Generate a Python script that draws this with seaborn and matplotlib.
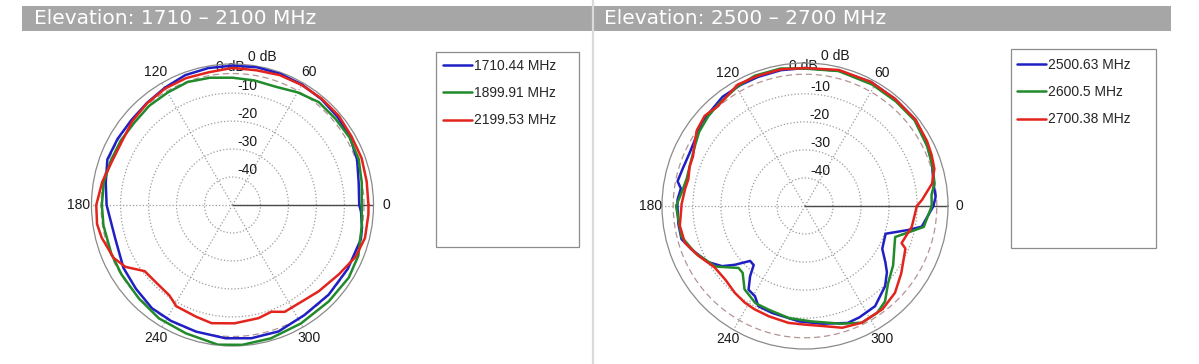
"""
Elevation radiation patterns, two frequency bands, MATLAB-style polar plots.
Output: out.png (1199 x 364)
"""
import numpy as np
import pandas as pd
import matplotlib
matplotlib.use("Agg")
import matplotlib.pyplot as plt
import matplotlib.transforms as mtransforms
from matplotlib.legend import Legend
from matplotlib.lines import Line2D
from matplotlib.patches import Rectangle
import seaborn as sns

W, H, DPI = 1199, 364, 100

# ── Data (angle in degrees, gain in dB) ───────────────────────

LOW_TITLE = "Elevation: 1710 \u2013 2100 MHz"
HIGH_TITLE = "Elevation: 2500 \u2013 2700 MHz"

LOW_NAMES = ["1710.44 MHz", "1899.91 MHz", "2199.53 MHz"]
HIGH_NAMES = ["2500.63 MHz", "2600.5 MHz", "2700.38 MHz"]

low_blue_deg = [0, 10, 20, 30, 40, 50, 60, 70, 80, 90, 100, 110, 120, 130, 140, 150, 160, 170, 180,
                196, 210, 221, 232, 242, 254, 267, 278, 290, 303, 317, 331, 345, 350, 357, 360]
low_blue_db = [-4.7, -4.2, -2.6, -1.5, -1.0, -0.6, -0.3, -0.1, 0.0, -0.2, -0.3, -0.6, -1.6, -2.4, -2.8,
               -2.6, -2.4, -4.0, -5.0, -6.4, -5.0, -4.3, -3.2, -3.1, -2.9, -2.3, -1.9, -1.9, -3.0,
               -3.0, -2.9, -2.5, -3.0, -4.0, -4.7]

low_green_deg = [0, 10, 20, 30, 40, 50, 60, 70, 80, 90, 100, 110, 120, 130, 140, 150, 160, 170, 180,
                 189, 202, 212, 225, 237, 250, 264, 274, 286, 300, 315, 328, 338, 351, 360]
low_green_db = [-3.8, -3.1, -2.0, -1.7, -2.0, -2.0, -3.5, -5.0, -4.8, -4.5, -3.8, -3.2, -3.6, -3.7,
                -4.2, -3.9, -3.7, -3.3, -3.3, -3.3, -3.3, -3.2, -2.7, -1.7, -1.2, 0.2, 0.1, -0.4,
                -1.1, -1.3, -1.0, -1.5, -3.2, -3.8]

low_red_deg = [0, 10, 20, 30, 40, 50, 60, 70, 80, 90, 100, 110, 120, 130, 140, 150, 160, 170, 180,
               188, 194, 204, 210, 217, 226, 235, 241, 252, 260, 271, 283, 290, 296, 306, 315, 327,
               337, 346, 356, 360]
low_red_db = [-1.4, -1.3, -0.9, -0.9, -0.4, -0.4, -0.5, -0.6, -1.1, -1.0, -1.8, -1.7, -1.9, -2.5,
              -3.3, -4.4, -4.2, -2.7, -1.3, -1.1, -1.8, -3.5, -5.8, -10.7, -11.1, -10.6, -8.6, -8.0,
              -7.1, -7.7, -8.5, -9.4, -7.5, -7.5, -6.4, -4.6, -2.3, -1.2, -1.3, -1.4]

high_blue_deg = [0, 4, 10, 19, 28, 38, 50, 62, 76, 90, 100, 110, 118, 127, 137, 141, 147, 155, 163,
                 169, 172, 177, 180, 188, 195, 201, 210, 216, 220, 225, 229, 232, 236, 241, 245,
                 253, 267, 278, 290, 296, 305, 315, 321, 325, 331, 341, 347, 350, 360]
high_blue_db = [-4.2, -3.3, -3.5, -2.1, -1.1, 0.0, -0.1, 0.1, -0.3, -0.8, -0.8, -1.0, -1.1, -1.2,
                -2.4, -2.6, -3.9, -4.7, -4.4, -3.7, -5.3, -4.5, -4.5, -4.4, -4.4, -6.7, -10.0,
                -13.5, -17.4, -22.3, -22.1, -18.2, -14.0, -13.2, -10.6, -10.1, -8.8, -7.6, -5.6,
                -5.8, -6.4, -9.6, -12.4, -15.0, -18.5, -19.6, -12.1, -7.7, -4.2]

high_green_deg = [0, 5, 10, 17, 26, 38, 49, 61, 76, 90, 100, 111, 119, 130, 137, 145, 151, 161, 167,
                  174, 180, 194, 203, 214, 223, 227, 234, 243, 251, 262, 273, 287, 296, 304, 310,
                  317, 326, 341, 350, 360]
high_green_db = [-4.8, -4.7, -3.1, -2.4, -1.5, -0.4, -0.6, -0.5, -0.4, -1.0, -0.2, -0.2, -1.0, -2.3,
                 -2.9, -3.9, -5.2, -6.5, -6.7, -5.7, -4.0, -4.6, -7.4, -11.4, -17.6, -17.4, -13.3,
                 -11.1, -10.8, -9.6, -8.8, -6.1, -3.7, -4.0, -5.6, -9.5, -12.1, -16.0, -7.0, -4.8]

high_red_deg = [0, 3, 10, 16, 22, 28, 38, 50, 62, 76, 90, 100, 110, 119, 131, 138, 145, 150, 156,
                161, 167, 172, 179, 189, 197, 205, 214, 223, 231, 238, 244, 252, 262, 270, 278,
                287, 296, 307, 316, 325, 337, 339, 349, 360]
high_red_db = [-10.1, -8.2, -4.0, -2.0, -1.3, -0.7, 0.0, -0.1, 0.1, 0.0, -0.8, -0.5, -0.6, -0.5,
               -2.7, -1.9, -2.9, -4.6, -6.3, -6.5, -7.3, -6.8, -6.0, -4.8, -5.2, -8.0, -11.0,
               -11.3, -10.2, -9.4, -9.0, -8.6, -7.9, -7.7, -6.8, -4.6, -3.7, -4.0, -5.4, -8.1,
               -11.1, -13.1, -11.2, -10.1]

RING_DB = [-40, -30, -20, -10]
ANGLE_TICKS = [0, 60, 120, 180, 240, 300]
REF_DB = -3          # dashed reference circle
DB_FLOOR = -50       # centre of the plot

COLORS = ["#1f1fc4", "#218a2b", "#e3241d"]
LABEL_SIZE = 10


# ── Helpers ───────────────────────────────────────────────────

def curve_frame(names, degs, dbs):
    parts = []
    for name, d, v in zip(names, degs, dbs):
        parts.append(pd.DataFrame({
            "theta": np.deg2rad(d),
            "r": np.asarray(v, dtype=float) - DB_FLOOR,
            "freq": name,
        }))
    return pd.concat(parts, ignore_index=True)


def draw_polar(fig, cx, cy, radius, rmax, df, names):
    rect = [(cx - radius) / W, (H - cy - radius) / H, 2 * radius / W, 2 * radius / H]
    ax = fig.add_axes(rect, projection="polar")
    ax.set_ylim(0, rmax)
    ax.set_theta_zero_location("E")

    ax.set_xticks(np.deg2rad(ANGLE_TICKS))
    ax.set_yticks([d - DB_FLOOR for d in RING_DB])
    ax.set_xticklabels([])
    ax.set_yticklabels([])
    ax.grid(True, ls=":", color="#9c9c9c", lw=0.9)
    ax.spines["polar"].set_color("#8a8a8a")
    ax.spines["polar"].set_linewidth(0.9)

    ring = np.linspace(0, 2 * np.pi, 361)
    ax.plot(ring, np.full_like(ring, REF_DB - DB_FLOOR), ls=(0, (5, 3)), color="#b39494", lw=0.9, zorder=2)
    ax.plot([0, 0], [0, rmax], color="#4a4a4a", lw=1.0, zorder=2)

    ppd = radius / rmax
    # radial labels, up the 90° spoke, shifted right
    for d in RING_DB:
        tr = mtransforms.offset_copy(ax.transData, fig=fig, x=15, y=7, units="dots")
        ax.text(np.pi / 2, d - DB_FLOOR, f"{d}", transform=tr, ha="center", va="center",
                fontsize=LABEL_SIZE, color="#1a1a1a", zorder=3)
    hidden = mtransforms.offset_copy(ax.transAxes, fig=fig, x=-2, y=radius - 3, units="dots")
    ax.text(0.5, 0.5, "0 dB", transform=hidden, ha="center", va="center", fontsize=LABEL_SIZE,
            color="#1a1a1a", zorder=1)
    top = mtransforms.offset_copy(ax.transAxes, fig=fig, x=30, y=radius + 7, units="dots")
    ax.text(0.5, 0.5, "0 dB", transform=top, ha="center", va="center", fontsize=LABEL_SIZE,
            color="#1a1a1a", clip_on=False, zorder=3)

    for a in ANGLE_TICKS:
        ax.text(np.deg2rad(a), 154 / ppd, str(a), ha="center", va="center", fontsize=LABEL_SIZE,
                color="#1a1a1a", clip_on=False)

    sns.lineplot(data=df, x="theta", y="r", hue="freq", hue_order=names, palette=COLORS,
                 sort=False, estimator=None, lw=1.8, legend=False, ax=ax, zorder=4)
    ax.set_xlabel("")
    ax.set_ylabel("")
    return ax


def draw_legend(bg, names, box, anchor):
    x0, y0, x1, y1 = box
    bg.add_patch(Rectangle((x0, y0), x1 - x0, y1 - y0, fill=False, ec="#8c8c8c", lw=0.9))
    handles = [Line2D([], [], color=c, lw=1.8) for c in COLORS]
    leg = Legend(bg, handles, names, loc="upper left", bbox_to_anchor=anchor,
                 bbox_transform=bg.transData, frameon=False, fontsize=LABEL_SIZE,
                 handlelength=2.1, handletextpad=0.15, labelspacing=0.95,
                 borderpad=0, borderaxespad=0)
    bg.add_artist(leg)
    return leg


# ── Figure ────────────────────────────────────────────────────

def main():
    sns.set_style("white")
    plt.rcParams["font.family"] = ["Liberation Sans", "DejaVu Sans"]

    fig = plt.figure(figsize=(W / DPI, H / DPI), dpi=DPI)
    bg = fig.add_axes([0, 0, 1, 1])
    bg.set_xlim(0, W)
    bg.set_ylim(H, 0)
    bg.axis("off")

    # header bars and separator
    bg.add_patch(Rectangle((22, 6), 570, 25, color="#a6a6a6", lw=0))
    bg.add_patch(Rectangle((593, 6), 578, 25, color="#a6a6a6", lw=0))
    bg.plot([592.5, 592.5], [0, H], color="#dadada", lw=1.6)
    for x, title in [(34, LOW_TITLE), (604, HIGH_TITLE)]:
        bg.text(x, 19, title, color="white", fontsize=14.5, family="DejaVu Sans",
                ha="left", va="center")

    low_df = curve_frame(LOW_NAMES, [low_blue_deg, low_green_deg, low_red_deg],
                         [low_blue_db, low_green_db, low_red_db])
    high_df = curve_frame(HIGH_NAMES, [high_blue_deg, high_green_deg, high_red_deg],
                          [high_blue_db, high_green_db, high_red_db])

    draw_polar(fig, 232.5, 205, 141, 50.4, low_df, LOW_NAMES)
    draw_polar(fig, 805, 206, 143, 51.0, high_df, HIGH_NAMES)

    draw_legend(bg, LOW_NAMES, (436, 52, 579, 247), (443, 59))
    draw_legend(bg, HIGH_NAMES, (1011, 49, 1156, 248), (1017, 58))

    fig.savefig("out.png", dpi=DPI)
    plt.close(fig)


if __name__ == "__main__":
    main()
